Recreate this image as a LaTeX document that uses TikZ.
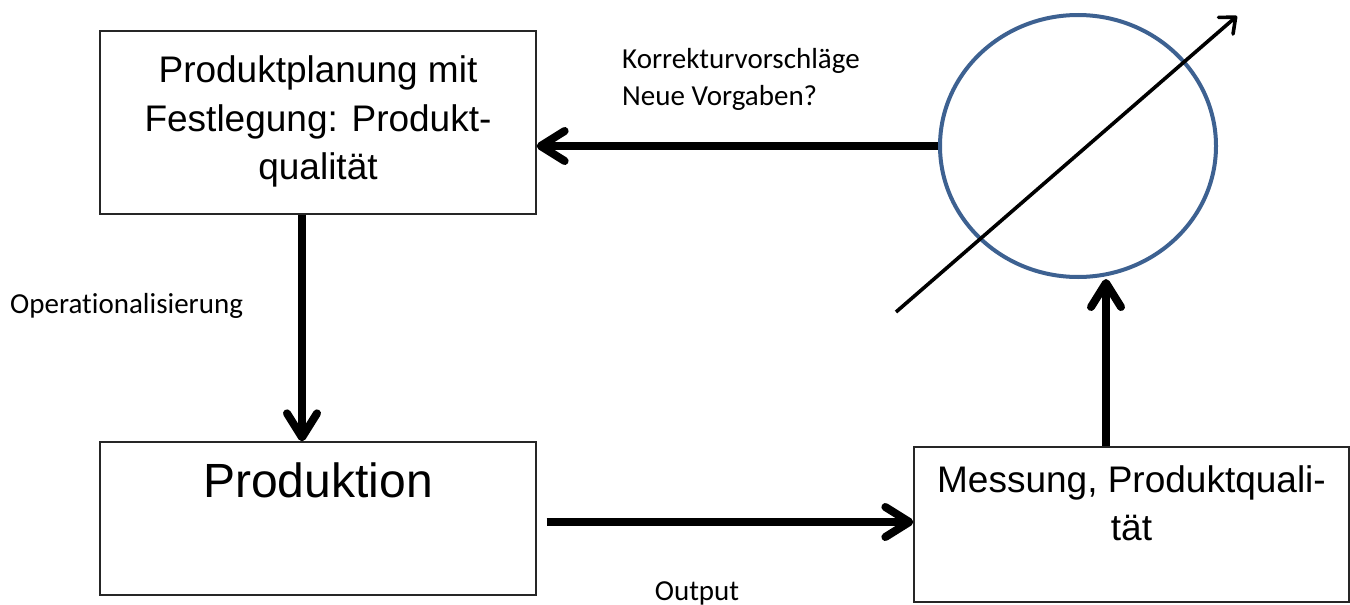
\documentclass[tikz,border=0pt]{standalone}
\usepackage{fontspec}
\newfontfamily\arialf{Liberation Sans}
\newfontfamily\calibf{Carlito}[Ligatures=NoCommon]
\usetikzlibrary{arrows.meta,shapes.geometric,calc}
\definecolor{circblue}{HTML}{3D6191}
\tikzset{
  box/.style={draw=black!85, line width=1.3pt, rectangle, inner sep=0pt},
  bigtext/.style={font=\arialf\fontsize{37}{48.5}\selectfont, inner sep=0pt, align=center},
  smalltext/.style={font=\calibf\fontsize{29}{37}\selectfont, inner sep=0pt},
  thickarrow/.style={line width=8pt, -{Straight Barb[length=24pt,width=30pt,round]}},
  thinarrow/.style={line width=3.6pt, -{Straight Barb[length=13pt,width=22pt,round]}},
}
\begin{document}
\begin{tikzpicture}[x=1pt,y=-1pt]
\useasboundingbox (0,0) rectangle (1350,605);
% boxes
\node[box, minimum width=436pt, minimum height=183pt] (plan) at (318,122.5) {};
\node[bigtext] (plantext) at (318,121.5) {Produktplanung mit\\Festlegung: Produkt-\\qualität};
\node[box, minimum width=436pt, minimum height=153pt] (prod) at (318,518.5) {};
\node[bigtext, font=\arialf\fontsize{48}{58}\selectfont, anchor=base] (prodtext) at (318,497) {Produktion};
\node[box, minimum width=435pt, minimum height=155pt] (mess) at (1131.5,524.5) {};
\node[bigtext] (messtext) at (1131.5,503.5) {Messung, Produktquali-\\tät};
% controller circle
\node[draw=circblue, line width=4pt, ellipse, inner sep=0pt, minimum width=276pt, minimum height=262pt] (ctrl) at (1078,146) {};
% labels
\begin{scope}
\clip (600,30) rectangle (900,111);
\node[smalltext, anchor=base west] (korr) at (622,68) {Korrekturvorschläge};
\node[smalltext, anchor=base west] (neue) at (622,105) {Neue Vorgaben?};
\end{scope}
\node[smalltext, anchor=base west] (oper) at (10,313) {Operationalisierung};
\node[smalltext, anchor=base] (outp) at (697,600) {Output};
% connectors
\draw[thickarrow] (ctrl.west) -- (ctrl.west -| plan.east);
\coordinate (pa) at ([xshift=-16pt]plan.south);
\draw[thickarrow] (pa) -- (pa |- prod.north);
\coordinate (pb) at ($(prod.east)+(10,3.5)$);
\draw[thickarrow] (pb) -- (pb -| mess.west);
\coordinate (pc) at ([xshift=-25.5pt]mess.north);
\draw[thickarrow] (pc) -- (pc |- ctrl.south);
\coordinate (d1) at (896,312);
\coordinate (d2) at (1237,16);
\draw[thinarrow] (d1) -- (d2);
\end{tikzpicture}
\end{document}
